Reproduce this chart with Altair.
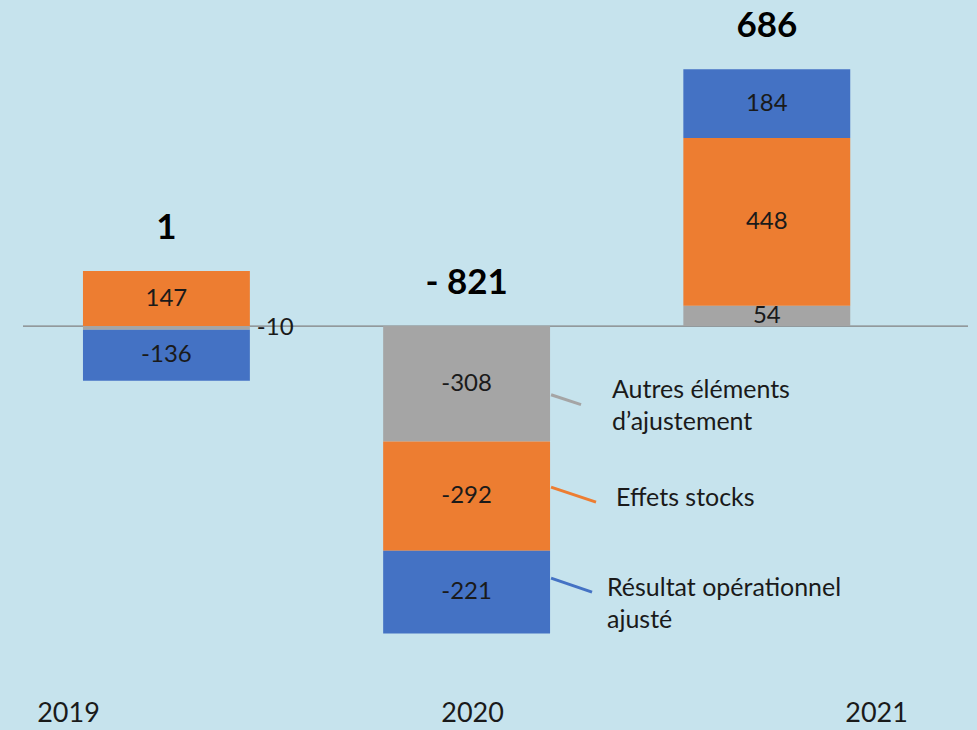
import altair as alt
import pandas as pd

years = ["2019", "2020", "2021"]
series = ["Autres éléments d’ajustement", "Effets stocks", "Résultat opérationnel ajusté"]
legend_labels = ["Autres éléments\nd’ajustement", "Effets stocks", "Résultat opérationnel\najusté"]
colors = ["#A5A5A5", "#ED7D31", "#4472C4"]
autres = [-10, -308, 54]
stocks = [147, -292, 448]
resultat = [-136, -221, 184]

BG = "#C6E3ED"

# page background (the 8px body margin) in the same light blue
try:
    import altair.utils.html as _ah
    _orig_tpl = _ah.TEMPLATES["standard"]

    class _BgTemplate:
        def render(self, *a, **kw):
            html = _orig_tpl.render(*a, **kw)
            return html.replace(
                "<head>",
                "<head><style>html,body{background:" + BG + ";overflow:hidden;}</style>",
                1,
            )

    _ah.TEMPLATES["standard"] = _BgTemplate()
except Exception:
    pass

rows = []
for k, (name, lab, vals) in enumerate(zip(series, legend_labels, [autres, stocks, resultat])):
    for yr, v in zip(years, vals):
        rows.append({"year": yr, "series": name, "label": lab, "k": k, "value": v})
df = pd.DataFrame(rows)

W, H = 961, 680
FONT = "Lato"
TXT = "#1a1a1a"

xband = alt.Scale(type="band", domain=years, paddingInner=0.444, paddingOuter=0.321, align=0.389)
yscale = alt.Scale(domain=[-971, 843], nice=False, zero=False)
cscale = alt.Scale(domain=series, range=colors)

X = alt.X("year:N", scale=xband, axis=None)
Xr = alt.X("year:N", scale=xband, axis=None, bandPosition=1)

base = (
    alt.Chart(df)
    .transform_stack(stack="value", groupby=["year"], as_=["y0", "y1"],
                     sort=[alt.SortField("k", order="ascending")])
    .transform_calculate(mid="(datum.y0 + datum.y1) / 2", vlabel="'' + datum.value")
)

zero_rule = alt.Chart(pd.DataFrame({"v": [0]})).mark_rule(color="#808080", strokeWidth=1.3).encode(
    y=alt.Y("v:Q", scale=yscale, axis=None), x=alt.value(15), x2=alt.value(W)
)

bars = base.mark_bar().encode(
    x=X,
    y=alt.Y("y0:Q", scale=yscale, axis=None),
    y2="y1:Q",
    color=alt.Color("series:N", scale=cscale, legend=None),
)

seg_in = base.transform_filter("abs(datum.value) >= 30").mark_text(
    font=FONT, fontSize=24, color=TXT, baseline="middle"
).encode(x=X, y=alt.Y("mid:Q", scale=yscale, axis=None), text="vlabel:N")

seg_out = base.transform_filter("abs(datum.value) < 30").mark_text(
    font=FONT, fontSize=24, color=TXT, baseline="middle", align="left", dx=7
).encode(x=Xr, y=alt.Y("mid:Q", scale=yscale, axis=None), text="vlabel:N")

totals = (
    alt.Chart(df)
    .transform_calculate(pos="max(datum.value, 0)")
    .transform_aggregate(total="sum(value)", pos="sum(pos)", groupby=["year"])
    .transform_calculate(tlabel="datum.total < 0 ? '- ' + (-datum.total) : '' + datum.total")
    .mark_text(font=FONT, fontSize=35, fontWeight="bold", color="#000000", baseline="alphabetic", dy=-32)
    .encode(x=X, y=alt.Y("pos:Q", scale=yscale, axis=None), text="tlabel:N")
)

# leader lines + annotation labels beside the 2020 bar (per-series layout offsets)
ann_style = {
    # series index: (line y start, line y end, line x end, text dx, text dy)
    0: (11, 21, 31, 62, -6),
    1: (-9, 6, 46, 66, -10),
    2: (-14, 0, 42, 57, -16),
}
ann_layers = []
for k, (ys, ye, xe, tdx, tdy) in ann_style.items():
    sub = base.transform_filter(f"datum.year == '2020' && datum.k == {k}")
    ann_layers.append(
        sub.mark_rule(strokeWidth=3, xOffset=1, x2Offset=xe, yOffset=ys, y2Offset=ye).encode(
            x=Xr,
            x2=alt.X2("year:N", bandPosition=1),
            y=alt.Y("mid:Q", scale=yscale, axis=None),
            y2="mid:Q",
            color=alt.Color("series:N", scale=cscale, legend=None),
        )
    )
    ann_layers.append(
        sub.mark_text(
            font=FONT, fontSize=25, color=TXT, align="left", baseline="top", dx=tdx, dy=tdy,
            lineBreak="\n", lineHeight=32
        ).encode(x=Xr, y=alt.Y("mid:Q", scale=yscale, axis=None), text="label:N")
    )

main = alt.layer(zero_rule, bars, seg_in, seg_out, totals, *ann_layers)

year_axis = alt.Chart(pd.DataFrame({"year": years})).mark_point(opacity=0).encode(
    x=alt.X(
        "year:N",
        scale=alt.Scale(type="point", domain=years, padding=0.188, align=0.395),
        axis=alt.Axis(orient="bottom", domain=False, ticks=False, grid=False, title=None,
                      labelAngle=0, labelFontSize=27, labelColor=TXT, labelPadding=32,
                      labelBaseline="alphabetic", labelFont=FONT),
    )
)

chart = (
    alt.layer(main, year_axis)
    .resolve_scale(x="independent")
    .resolve_axis(x="independent")
    .properties(width=W, height=H, background=BG, padding=0)
    .configure_view(stroke=None)
)

chart.save("out.html", embed_options={"renderer": "svg", "actions": False})
